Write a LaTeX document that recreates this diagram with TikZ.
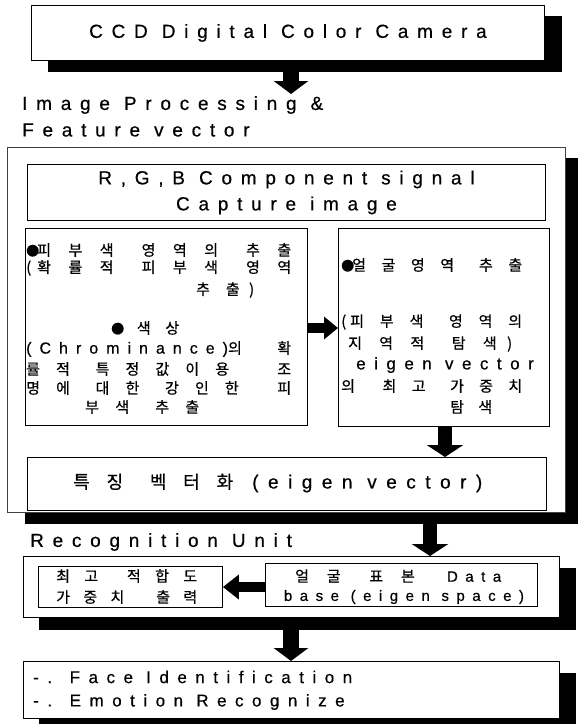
\documentclass[tikz,border=0pt]{standalone}
\usepackage{fontspec}
\setmainfont{Liberation Sans}
\newfontfamily\lat{Liberation Sans}[LetterSpace=46,FakeBold=0.5]
\newfontfamily\latB{Liberation Sans}[LetterSpace=50,FakeBold=0.5]
\newfontfamily\kr{Noto Sans CJK KR}[FakeBold=0.6]
\newcommand\sz[1]{\fontsize{#1}{#1}\selectfont}
\newcommand\sg{\hspace{0pt plus 1fill}}
\newcommand\wg[1]{\hspace{0pt plus #1fill}}
\newcommand\bul{\makebox[11pt][l]{\fontsize{13}{13}\selectfont ●}}
\newcommand\jl[2]{\makebox[#1][s]{#2}}
\usetikzlibrary{arrows.meta,calc,backgrounds}
\begin{document}
\begin{tikzpicture}[x=1pt,y=-1pt,
  box/.style={draw=black,line width=0.9pt,fill=white,inner sep=0pt,anchor=north west},
  outerbox/.style={box,draw=black!75,line width=0.7pt},
  shade/.style={fill=black},
  vbar/.style={line width=16pt,-{Triangle[width=34pt,length=13pt]}},
  vbarB/.style={line width=14pt,-{Triangle[width=36pt,length=12pt]}},
  hbar/.style={line width=10pt,-{Triangle[width=22pt,length=14pt]}},
  hbarB/.style={line width=10pt,-{Triangle[width=24pt,length=16pt]}},
  txt/.style={inner sep=0pt,text=black},
  big/.style={font=\lat\fontsize{19}{26}\selectfont},
  kor/.style={font=\kr\fontsize{15}{16}\selectfont},
]
\useasboundingbox (0,0) rectangle (578,724);
\clip (0,0) rectangle (578,724);
% top box
\node[box,big,minimum width=513pt,minimum height=55pt] (top) at (31,5) {CCD Digital Color Camera};
\coordinate (a1) at (291,94);
\draw[vbar] (top.south -| a1) -- (a1);
\node[txt,big,anchor=west] (lip) at (22,105) {Image Processing \&};
\node[txt,big,anchor=west] (lfv) at (22,130) {Feature vector};
% outer processing box
\node[outerbox,minimum width=558pt,minimum height=365pt] (outer) at (7,147) {};
\node[box,big,align=center,minimum width=518pt,minimum height=56pt] (rgb) at (27,164) {R,G,B Component signal\\Capture image};
\node[box,minimum width=282pt,minimum height=197pt] (lbox) at (25,228) {};
\node[box,minimum width=211pt,minimum height=198pt] (rbox) at (338,228) {};
\node[box,minimum width=519pt,minimum height=53pt] (feat) at (27,457) {};
\node[txt,anchor=west] (ftxt) at (73,483) {{\kr\fontsize{18}{20}\selectfont\jl{160pt}{특\sg 징\wg{1.6}벡\sg 터\sg 화}}\hspace{19pt}{\latB\fontsize{19}{20}\selectfont (eigen vector)}};
% left box text
\node[txt,kor,anchor=west] (l1) at (26,250) {\jl{265pt}{\bul 피\sg 부\sg 색\wg{1.6}영\sg 역\sg 의\wg{1.6}추\sg 출}};
\node[txt,kor,anchor=west] (l2) at (26,268) {\jl{265pt}{\makebox[11pt][l]{(}확\sg 률\sg 적\wg{1.6}피\sg 부\sg 색\wg{1.6}영\sg 역}};
\node[txt,kor,anchor=west] (l3) at (196,290) {\jl{58pt}{추\sg 출\wg{0.6})}};
\node[txt,kor,anchor=west] (l4) at (111,328) {\jl{68pt}{\bul\sg 색\sg 상}};
\node[txt,kor,anchor=west] (l5) at (26,349) {\jl{265pt}{{\latB\fontsize{16}{16}\selectfont (Chrominance)}의\hfill 확}};
\node[txt,kor,anchor=west] (l6) at (26,369) {\jl{265pt}{률\sg 적\wg{1.6}특\sg 정\sg 값\sg 이\sg 용\wg{3}조}};
\node[txt,kor,anchor=west] (l7) at (26,388) {\jl{265pt}{명\sg 에\wg{1.6}대\sg 한\wg{1.6}강\sg 인\sg 한\wg{2.4}피}};
\node[txt,kor,anchor=west] (l8) at (85,407) {\jl{114pt}{부\sg 색\wg{1.6}추\sg 출}};
% right box text
\node[txt,kor,anchor=west] (r1) at (341,265) {\jl{181pt}{\bul 얼\sg 굴\sg 영\sg 역\wg{1.6}추\sg 출}};
\node[txt,kor,anchor=west] (r2) at (341,322) {\jl{181pt}{\makebox[9pt][l]{(}피\sg 부\sg 색\wg{1.6}영\sg 역\sg 의}};
\node[txt,kor,anchor=west] (r3) at (348,344) {\jl{164pt}{지\sg 역\sg 적\wg{1.6}탐\sg 색\wg{0.6})}};
\node[txt] (r4) at (445,365) {{\latB\fontsize{17}{20}\selectfont eigen vector}};
\node[txt,kor,anchor=west] (r5) at (341,386) {\jl{181pt}{의\wg{1.8}최\sg 고\wg{1.6}가\sg 중\sg 치}};
\node[txt,kor,anchor=west] (r6) at (450,407) {\jl{42pt}{탐\sg 색}};
\coordinate (hy) at (0,328);
\draw[hbar] (lbox.east |- hy) -- (rbox.west |- hy);
\coordinate (a2) at (445,0);
\draw[vbarB] (rbox.south -| a2) -- (feat.north -| a2);
% recognition
\node[txt,big,anchor=west] (lru) at (30,542) {Recognition Unit};
\node[box,minimum width=536pt,minimum height=61pt] (rec) at (23,556) {};
\coordinate (a3) at (430,523);
\draw[vbarB] (a3) -- (rec.north -| a3);
\node[box,minimum width=184pt,minimum height=41pt] (inl) at (38,566) {};
\node[txt,kor,anchor=west] (il1) at (56,576) {\jl{141pt}{최\sg 고\wg{2}적\sg 합\sg 도}};
\node[txt,kor,anchor=west] (il2) at (56,597) {\jl{141pt}{가\sg 중\sg 치\wg{2.4}출\sg 력}};
\node[box,minimum width=272pt,minimum height=43pt] (inr) at (265,563) {};
\node[txt,kor,anchor=west] (ir1) at (295,576) {\jl{206pt}{얼\sg 굴\wg{1.6}표\sg 본\wg{1.8}{\latB\fontsize{15}{16}\selectfont Data}}};
\node[txt] (ir2) at (404,597) {{\latB\fontsize{15}{16}\selectfont base (eigen space)}};
\coordinate (h4) at (0,587);
\draw[hbarB] (inr.west |- h4) -- (inl.east |- h4);
% final
\node[box,minimum width=536pt,minimum height=57pt] (final) at (23,661) {};
\coordinate (a5) at (291,629);
\draw[vbar] (a5) -- (final.north -| a5);
\node[txt,anchor=west,font=\latB\fontsize{17}{20}\selectfont] (f1) at (33,677) {-. Face Identification};
\node[txt,anchor=west,font=\latB\fontsize{17}{20}\selectfont] (f2) at (33,702) {-. Emotion Recognize};
% shadows
\begin{scope}[on background layer]
\fill[shade] ($(top.south west)+(17,11)$) rectangle ($(top.north east)+(17,11)$);
\fill[shade] ($(outer.south west)+(18,11)$) rectangle ($(outer.north east)+(18,11)$);
\fill[shade] ($(rec.south west)+(16,12)$) rectangle ($(rec.north east)+(16,12)$);
\fill[shade] ($(final.south west)+(16,12)$) rectangle ($(final.north east)+(16,12)$);
\end{scope}
\end{tikzpicture}
\end{document}
